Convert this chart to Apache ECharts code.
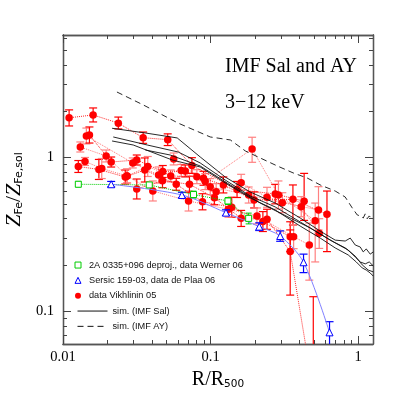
<!DOCTYPE html>
<html>
<head>
<meta charset="utf-8">
<script src="https://cdn.jsdelivr.net/npm/echarts@6/dist/echarts.min.js"></script>
<style>
  html, body { margin: 0; padding: 0; background: #fff; }
  #chart { width: 407px; height: 407px; }
</style>
</head>
<body>
<div id="chart"></div>
<script>
// --- rangos de los ejes (en log10) ---
const xRange = [-2, 0.1];
const yRange = [-1.215, 0.8];

// --- marcas de los ejes ---
const xTickValues = [0.01, 0.1, 1];
const xTickLabels = ['0.01', '0.1', '1'];
const xMinorValues = [0.02, 0.03, 0.04, 0.05, 0.06, 0.07, 0.08, 0.09, 0.2, 0.3, 0.4, 0.5, 0.6, 0.7, 0.8, 0.9];
const yTickValues = [0.1, 1];
const yTickLabels = ['0.1', '1'];
const yMinorValues = [0.07, 0.08, 0.09, 0.2, 0.3, 0.4, 0.5, 0.6, 0.7, 0.8, 0.9, 2, 3, 4, 5, 6];

// --- datos Werner 06: [R/R500, Z, zLo, zHi] ---
const wernerRows = [
    [0.0127, 0.671, 0.645, 0.700],
    [0.0384, 0.664, 0.640, 0.690],
    [0.0766, 0.575, 0.545, 0.605],
    [0.131, 0.522, 0.495, 0.550],
    [0.181, 0.402, 0.370, 0.435]
];

// --- datos de Plaa 06 ---
const plaaRows = [
    [0.0212, 0.671, 0.645, 0.700],
    [0.0639, 0.571, 0.548, 0.595],
    [0.127, 0.438, 0.420, 0.457],
    [0.2135, 0.355, 0.335, 0.376],
    [0.296, 0.3085, 0.285, 0.333],
    [0.426, 0.208, 0.178, 0.235],
    [0.639, 0.0726, 0.05, 0.0852]
];

// --- datos Vikhlinin 05 (un array por cúmulo) ---
const vikA = [
    [0.0110, 1.82, 1.61, 2.05], [0.0160, 1.90, 1.71, 2.11], [0.0237, 1.68, 1.54, 1.84],
    [0.0349, 1.35, 1.24, 1.47], [0.0512, 1.31, 1.20, 1.43], [0.0747, 0.89, 0.79, 1.00],
    [0.151, 0.62, 0.55, 0.70], [0.274, 0.58, 0.50, 0.67], [0.430, 0.52, 0.39, 0.79]
];
const vikB = [
    [0.0144, 1.385, 1.23, 1.56], [0.0297, 0.924, 0.857, 0.996], [0.0444, 0.771, 0.683, 0.870],
    [0.0632, 0.825, 0.754, 0.903], [0.0994, 0.647, 0.574, 0.730], [0.181, 0.571, 0.506, 0.644],
    [0.306, 0.509, 0.438, 0.591], [0.538, 0.456, 0.338, 0.647]
];
const vikC = [
    [0.0151, 1.406, 1.246, 1.586], [0.0212, 0.937, 0.869, 1.01], [0.0316, 0.966, 0.896, 1.041],
    [0.0474, 0.813, 0.743, 0.889], [0.0673, 0.819, 0.749, 0.896], [0.0895, 0.734, 0.661, 0.815],
    [0.122, 0.664, 0.589, 0.749], [0.197, 0.53, 0.47, 0.598], [0.361, 0.535, 0.364, 0.664],
    [0.614, 0.427, 0.244, 0.606]
];
const vikD = [
    [0.0131, 1.174, 1.089, 1.266], [0.0196, 1.026, 0.938, 1.122], [0.0272, 0.76, 0.684, 0.844],
    [0.0375, 0.876, 0.754, 1.018], [0.0537, 0.76, 0.695, 0.831], [0.0807, 0.752, 0.677, 0.835],
    [0.109, 0.60, 0.532, 0.677], [0.161, 0.687, 0.616, 0.779], [0.241, 0.552, 0.475, 0.641],
    [0.411, 0.479, 0.412, 0.557], [0.544, 0.321, 0.256, 0.40]
];
const vikE = [
    [0.0127, 0.876, 0.801, 0.958], [0.0175, 0.838, 0.721, 0.974], [0.0264, 0.748, 0.673, 0.831],
    [0.0358, 0.831, 0.694, 0.996], [0.0585, 0.671, 0.613, 0.734], [0.0881, 0.516, 0.457, 0.582],
    [0.139, 0.475, 0.409, 0.552], [0.226, 0.383, 0.33, 0.445], [0.346, 0.305, 0.244, 0.382]
];
const vikF = [
    [0.0141, 0.945, 0.89, 1.003], [0.0183, 0.85, 0.731, 0.988], [0.0271, 0.76, 0.684, 0.844],
    [0.0406, 0.607, 0.522, 0.705], [0.0709, 0.522, 0.449, 0.607], [0.132, 0.461, 0.409, 0.52],
    [0.206, 0.417, 0.37, 0.47], [0.365, 0.305, 0.255, 0.365], [0.466, 0.27, 0.159, 0.375]
];
const vikG = [
    [0.0316, 0.625, 0.538, 0.726], [0.0472, 0.708, 0.637, 0.787], [0.0719, 0.671, 0.595, 0.757],
    [0.106, 0.548, 0.493, 0.609], [0.161, 0.402, 0.356, 0.453], [0.241, 0.397, 0.341, 0.461],
    [0.346, 0.244, 0.127, 0.338], [0.496, 0.03, 0.01, 0.124]
];
const vikH = [
    [0.0562, 0.981, 0.897, 1.073], [0.0919, 0.698, 0.619, 0.787], [0.191, 1.14, 0.933, 1.359],
    [0.288, 0.571, 0.463, 0.705], [0.511, 0.388, 0.209, 0.506]
];
const vikClusters = [vikA, vikB, vikC, vikD, vikE, vikF, vikG, vikH];

// --- simulaciones IMF Sal (líneas continuas): [R/R500, Z] ---
const simSal1 = [
    [0.0215, 1.555], [0.0361, 1.449], [0.0594, 1.345], [0.085, 1.011], [0.1256, 0.748],
    [0.1855, 0.597], [0.274, 0.506], [0.4046, 0.404], [0.5527, 0.332], [0.698, 0.290],
    [0.8164, 0.286], [0.8827, 0.299], [0.9543, 0.2695], [1.0317, 0.2615], [1.081, 0.243],
    [1.133, 0.254], [1.206, 0.235], [1.264, 0.243]
];
const simSal2 = [
    [0.0219, 1.365], [0.0372, 1.21], [0.0603, 1.089], [0.085, 0.924], [0.1256, 0.715],
    [0.1855, 0.563], [0.274, 0.477], [0.4046, 0.381], [0.5527, 0.318], [0.698, 0.278],
    [0.8554, 0.25], [0.9543, 0.225], [1.0317, 0.209], [1.1154, 0.203], [1.187, 0.209],
    [1.264, 0.197]
];
const simSal3 = [
    [0.0215, 1.285], [0.0299, 1.21], [0.0549, 0.966], [0.085, 0.87], [0.1256, 0.684],
    [0.1855, 0.546], [0.274, 0.456], [0.4046, 0.358], [0.5527, 0.299], [0.698, 0.258],
    [0.8554, 0.232], [0.969, 0.209], [1.064, 0.191], [1.133, 0.185], [1.206, 0.177],
    [1.264, 0.169]
];
const simSal4 = [
    [0.0361, 1.123], [0.0532, 1.041], [0.085, 0.883], [0.1358, 0.664], [0.2168, 0.506],
    [0.3461, 0.404], [0.4729, 0.348], [0.646, 0.29], [0.8164, 0.258], [0.9543, 0.228],
    [1.064, 0.20], [1.169, 0.185], [1.264, 0.18]
];
const simSalLines = [simSal1, simSal2, simSal3, simSal4];

// --- simulación IMF AY (discontinua) ---
const simAY = [
    [0.0232, 2.68], [0.0349, 2.21], [0.0603, 1.68], [0.0994, 1.365], [0.136, 1.305],
    [0.172, 1.106], [0.217, 0.995], [0.283, 0.883], [0.363, 0.795], [0.451, 0.737],
    [0.553, 0.664], [0.698, 0.606], [0.816, 0.554], [0.911, 0.47], [0.985, 0.423],
    [1.032, 0.417], [1.081, 0.404], [1.115, 0.43], [1.15, 0.40], [1.187, 0.417],
    [1.244, 0.398]
];

// --- nombres de la leyenda ---
const nameWerner = '2A 0335+096 deproj., data Werner 06';
const namePlaa = 'Sersic 159-03, data de Plaa 06';
const nameVik = 'data Vikhlinin 05';
const nameSal = 'sim. (IMF Sal)';
const nameAY = 'sim. (IMF AY)';

const L = Math.log10;

// Barras de error: [x, lo, hi] -> línea vertical con remates
function errorBars(color, capHalf, width) {
    return function (params, api) {
        const lo = api.coord([api.value(0), api.value(1)]);
        const hi = api.coord([api.value(0), api.value(2)]);
        const st = { stroke: color, lineWidth: width };
        return {
            type: 'group',
            children: [
                { type: 'line', shape: { x1: lo[0], y1: lo[1], x2: hi[0], y2: hi[1] }, style: st },
                { type: 'line', shape: { x1: lo[0] - capHalf, y1: lo[1], x2: lo[0] + capHalf, y2: lo[1] }, style: st },
                { type: 'line', shape: { x1: hi[0] - capHalf, y1: hi[1], x2: hi[0] + capHalf, y2: hi[1] }, style: st }
            ]
        };
    };
}

function errData(rows) { return rows.map(r => [L(r[0]), L(r[2]), L(r[3])]); }
function ptData(rows) { return rows.map(r => [L(r[0]), L(r[1])]); }

// Ejes: uno por lado para marcas mayores y otro para menores
function makeAxis(range, position, values, len, labels) {
    const logs = values.map(v => L(v));
    return {
        type: 'value',
        position: position,
        min: range[0],
        max: range[1],
        splitLine: { show: false },
        axisLine: { show: true, onZero: false, lineStyle: { color: '#555', width: 1.3 } },
        axisTick: { show: true, inside: true, length: len, customValues: logs, lineStyle: { color: '#444', width: 1 } },
        axisLabel: labels ? {
            show: true,
            customValues: logs,
            fontFamily: 'Liberation Serif',
            fontSize: 14.5,
            color: '#000',
            margin: position === 'bottom' ? 6 : 9,
            formatter: function (v) {
                const i = logs.findIndex(l => Math.abs(l - v) < 1e-6);
                return i >= 0 ? labels[i] : '';
            }
        } : { show: false }
    };
}

const xAxes = [
    makeAxis(xRange, 'bottom', xTickValues, 8, xTickLabels),
    makeAxis(xRange, 'bottom', xMinorValues, 4),
    makeAxis(xRange, 'top', xTickValues, 8),
    makeAxis(xRange, 'top', xMinorValues, 4)
];
xAxes[0].name = '{m|R/R}{s|500}';
xAxes[0].nameLocation = 'middle';
xAxes[0].nameGap = 26;
xAxes[0].nameTextStyle = {
    rich: {
        m: { fontFamily: 'Liberation Serif', fontSize: 20, color: '#000' },
        s: { fontFamily: 'DejaVu Sans', fontSize: 10.5, color: '#000', padding: [9, 0, 0, 0] }
    }
};

const yAxes = [
    makeAxis(yRange, 'left', yTickValues, 8, yTickLabels),
    makeAxis(yRange, 'left', yMinorValues, 4),
    makeAxis(yRange, 'right', yTickValues, 8),
    makeAxis(yRange, 'right', yMinorValues, 4)
];
yAxes[0].name = '{z|Z}{s|Fe}{m|/}{z|Z}{s|Fe,sol}';
yAxes[0].nameLocation = 'middle';
yAxes[0].nameRotate = 90;
yAxes[0].nameGap = 36;
yAxes[0].nameTextStyle = {
    rich: {
        z: { fontFamily: 'Liberation Serif', fontStyle: 'italic', fontSize: 22, color: '#000' },
        m: { fontFamily: 'Liberation Serif', fontSize: 22, color: '#000' },
        s: { fontFamily: 'DejaVu Sans', fontSize: 11, color: '#000', padding: [10, 0, 0, 0] }
    }
};

// --- series ---
const series = [];

vikClusters.forEach(function (rows, i) {
    const dark = i % 2 === 0;
    series.push({
        type: 'custom', name: nameVik, clip: true, z: 2,
        renderItem: errorBars(dark ? '#ff0000' : '#ff8080', 4, 1.2),
        encode: { x: 0, y: [1, 2] },
        data: errData(rows)
    });
    series.push({
        type: 'line', name: nameVik, z: 3,
        data: ptData(rows),
        symbol: 'circle', symbolSize: 7.5,
        itemStyle: { color: '#ff0000' },
        lineStyle: { type: 'dotted', width: 1, color: dark ? 'rgba(255,0,0,0.85)' : 'rgba(255,60,60,0.7)' }
    });
});

// Werner 06 (cuadrados verdes)
series.push({
    type: 'custom', name: nameWerner, clip: true, z: 4,
    renderItem: errorBars('#00cc00', 3, 1),
    encode: { x: 0, y: [1, 2] },
    data: errData(wernerRows)
});
series.push({
    type: 'line', name: nameWerner, z: 5,
    data: ptData(wernerRows),
    symbol: 'rect', symbolSize: 6,
    itemStyle: { color: '#ffffff', borderColor: '#00cc00', borderWidth: 1 },
    lineStyle: { type: 'dotted', width: 1, color: '#00cc00' }
});

// de Plaa 06 (triángulos azules)
series.push({
    type: 'custom', name: namePlaa, clip: true, z: 4,
    renderItem: errorBars('#0000ff', 4, 1.2),
    encode: { x: 0, y: [1, 2] },
    data: errData(plaaRows)
});
series.push({
    type: 'line', name: namePlaa, z: 5,
    data: ptData(plaaRows),
    smooth: 0.3,
    symbol: 'triangle', symbolSize: 7,
    itemStyle: { color: '#ffffff', borderColor: '#0000ff', borderWidth: 1 },
    lineStyle: { width: 1, color: '#8080ff' }
});

// simulaciones
simSalLines.forEach(function (rows) {
    series.push({
        type: 'line', name: nameSal, z: 6, symbol: 'none',
        data: ptData(rows),
        lineStyle: { color: '#111', width: 0.9 }
    });
});
series.push({
    type: 'line', name: nameAY, z: 6, symbol: 'none',
    data: ptData(simAY),
    lineStyle: { color: '#111', width: 0.9, type: [6, 4] }
});

const legendText = { fontFamily: 'Liberation Sans', fontSize: 9.2, color: '#111', lineHeight: 15.3 };

const chart = echarts.init(document.getElementById('chart'));
chart.setOption({
    animation: false,
    backgroundColor: '#ffffff',
    grid: { left: 63, top: 35, width: 310, height: 309, outerBoundsMode: 'none' },
    xAxis: xAxes,
    yAxis: yAxes,
    legend: [
        {
            orient: 'vertical', left: 74.5, top: 257.4, padding: 0, itemGap: 0,
            itemWidth: 6, itemHeight: 6, selectedMode: false,
            textStyle: Object.assign({ padding: [0, 0, 0, 3] }, legendText),
            data: [
                { name: nameWerner, icon: 'rect', itemStyle: { color: '#ffffff', borderColor: '#00cc00', borderWidth: 1 } },
                { name: namePlaa, icon: 'triangle', itemStyle: { color: '#ffffff', borderColor: '#0000ff', borderWidth: 1 } },
                { name: nameVik, icon: 'circle', itemStyle: { color: '#ff0000', borderWidth: 0 } }
            ]
        },
        {
            orient: 'vertical', left: 77, top: 303.4, padding: 0, itemGap: 0,
            itemWidth: 30, itemHeight: 8, selectedMode: false,
            textStyle: legendText,
            data: [
                { name: nameSal, itemStyle: { opacity: 0 }, lineStyle: { color: '#111', width: 1, type: 'solid' } },
                { name: nameAY, itemStyle: { opacity: 0 }, lineStyle: { color: '#111', width: 1, type: [6, 4] } }
            ]
        }
    ],
    graphic: [
        { type: 'text', left: 225, top: 56.5, style: { text: 'IMF Sal and AY', font: '20px "Liberation Serif"', fill: '#000' } },
        { type: 'text', left: 225, top: 93, style: { text: '3\u221212 keV', font: '20px "Liberation Serif"', fill: '#000' } }
    ],
    series: series
});
</script>
</body>
</html>
